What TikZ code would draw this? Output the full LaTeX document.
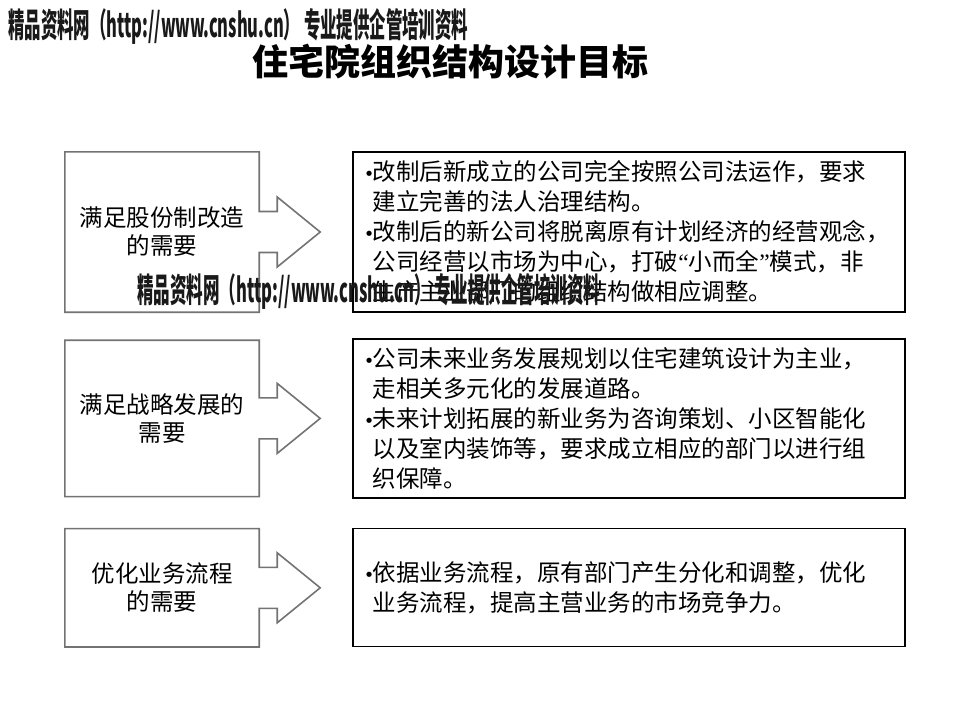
\documentclass[tikz,border=0pt]{standalone}
\usepackage{fontspec}
\setmainfont{Noto Sans CJK SC}
\newfontfamily\symfont{DejaVu Sans}
\newfontfamily\quotefont{Liberation Serif}
\usepackage{graphicx}
\usetikzlibrary{positioning,calc}

\tikzset{
  need/.style={minimum width=194pt, align=center, inner sep=0pt,
    font=\fontsize{23.5}{28}\selectfont},
  needline/.style={draw=black!55, line width=1.6pt, line join=miter},
  goal/.style={draw, line width=1.3pt, minimum width=552pt, text width=530pt,
    inner xsep=11pt, inner ysep=0pt, align=left,
    font=\fontsize{23.5}{30}\selectfont},
  watermark/.style={inner sep=0pt, text=black!90, font=\bfseries}
}
\newcommand\bul{\makebox[9pt][l]{\symfont\fontsize{18}{18}\selectfont •}}
\newcommand\ind{\hspace*{9pt}}

\begin{document}
\begin{tikzpicture}[x=1pt, y=-1pt]
  \useasboundingbox (0,0) rectangle (960,720);

  \node[font=\bfseries\fontsize{36}{40}\selectfont] (title) at (450,62) {住宅院组织结构设计目标};

  \node[need, minimum height=160pt] (need1) at (162,232) {满足股份制改造\\的需要};
  \node[need, minimum height=156pt, below=28pt of need1] (need2) {满足战略发展的\\需要};
  \node[need, minimum height=118pt, below=32pt of need2] (need3) {优化业务流程\\的需要};

  \node[goal, minimum height=160pt, right=93pt of need1] (goal1)
  {\bul 改制后新成立的公司完全按照公司法运作，要求\\
   \ind 建立完善的法人治理结构。\\
   \bul 改制后的新公司将脱离原有计划经济的经营观念，\\
   \ind 公司经营以市场为中心，打破{\quotefont “}小而全{\quotefont ”}模式，非\\
   \ind 生产主业部门的组织结构做相应调整。};
  \node[goal, minimum height=159pt, right=93pt of need2] (goal2)
  {\bul 公司未来业务发展规划以住宅建筑设计为主业，\\
   \ind 走相关多元化的发展道路。\\
   \bul 未来计划拓展的新业务为咨询策划、小区智能化\\
   \ind 以及室内装饰等，要求成立相应的部门以进行组\\
   \ind 织保障。};
  \node[goal, minimum height=118pt, right=93pt of need3] (goal3)
  {\bul 依据业务流程，原有部门产生分化和调整，优化\\
   \ind 业务流程，提高主营业务的市场竞争力。};

  % box with arrow towards the goals
  \foreach \n in {need1,need2,need3}
    \draw[needline] (\n.north west) -- (\n.north east) -- ($(\n.east)+(0,-20.5)$)
      -- ++(18,0) -- ++(0,-14.5) -- ++(43,35) -- ++(-43,35) -- ++(0,-14.5)
      -- ++(-18,0) -- (\n.south east) -- (\n.south west) -- cycle;

  \node[watermark, anchor=west] (mark1) at (8,26)
  {\resizebox{460pt}{29pt}{精品资料网（http://www.cnshu.cn） 专业提供企管培训资料}};
  \node[watermark, anchor=west] (mark2) at (137,291)
  {\resizebox{463pt}{29pt}{精品资料网（http://www.cnshu.cn） 专业提供企管培训资料}};
\end{tikzpicture}
\end{document}
